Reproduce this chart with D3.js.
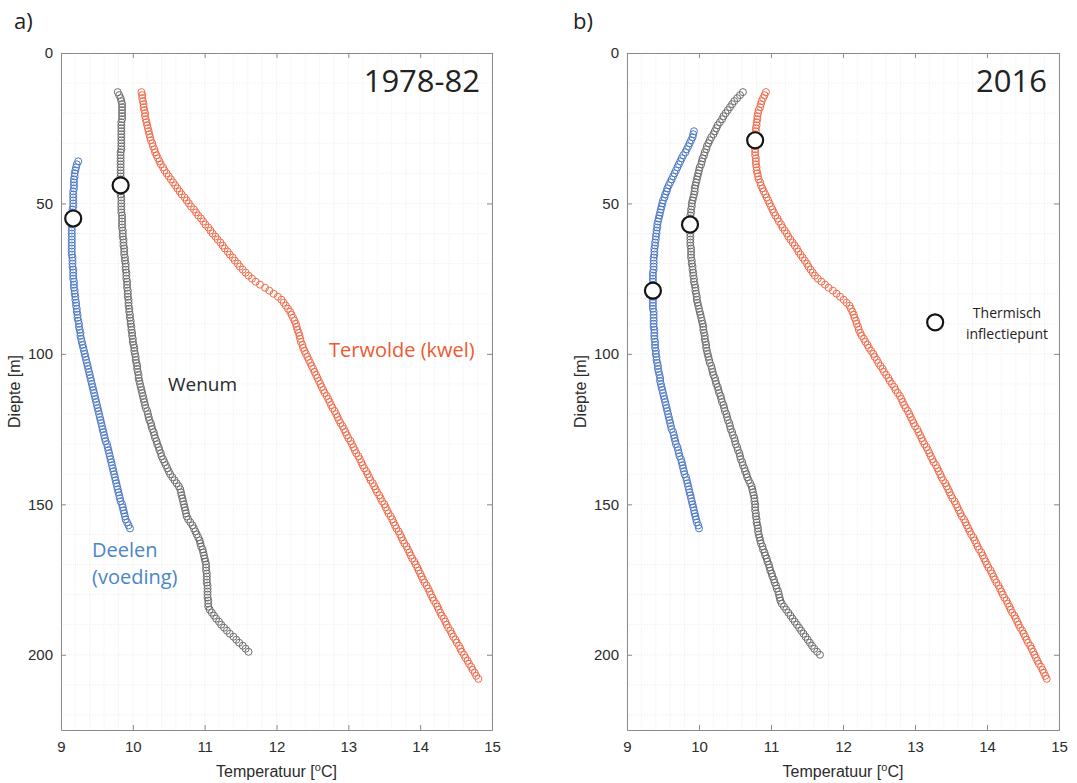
<!DOCTYPE html>
<html>
<head>
<meta charset="utf-8">
<script src="https://cdn.jsdelivr.net/npm/d3@7"></script>
<style>
  body { margin: 0; background: #fff; }
  svg { display: block; }
</style>
</head>
<body>
<div id="chart"></div>
<script>
"use strict";

// Temperature profiles (°C), one reading per metre, starting at the given depth (m)
const deelenAStart = 36;
const deelenA = [9.24,9.22,9.21,9.20,9.19,9.19,9.18,9.18,9.18,9.18,9.17,9.17,9.17,9.17,9.17,9.17,9.16,9.16,9.16,9.16,9.16,9.15,9.15,9.15,9.15,
  9.15,9.15,9.15,9.15,9.15,9.15,9.15,9.16,9.16,9.16,
  9.16,9.17,9.17,9.17,9.17,9.18,9.18,9.18,9.19,9.19,
  9.20,9.20,9.21,9.21,9.22,9.22,9.23,9.23,9.24,9.25,
  9.25,9.26,9.27,9.27,9.28,9.29,9.30,9.31,9.32,9.33,
  9.34,9.35,9.36,9.37,9.38,9.39,9.40,9.41,9.42,9.43,
  9.44,9.45,9.46,9.47,9.48,9.49,9.50,9.51,9.52,9.53,
  9.54,9.55,9.56,9.57,9.58,9.59,9.60,9.61,9.62,9.64,
  9.65,9.66,9.67,9.68,9.69,9.70,9.71,9.72,9.73,9.74,
  9.75,9.76,9.77,9.78,9.79,9.80,9.81,9.82,9.83,9.85,
  9.86,9.87,9.88,9.89,9.90,9.92,9.94,9.96];

const wenumAStart = 13;
const wenumA = [9.79,9.81,9.83,9.84,9.85,9.85,9.85,9.85,
  9.85,9.85,9.84,9.84,9.84,9.84,9.84,9.84,9.84,9.84,
  9.84,9.84,9.83,9.83,9.83,9.83,9.83,9.83,9.83,9.83,
  9.83,9.83,9.83,9.83,9.83,9.83,9.83,9.84,9.84,9.84,
  9.84,9.84,9.84,9.85,9.85,9.85,9.85,9.85,9.86,9.86,
  9.86,9.87,9.87,9.87,9.88,9.88,9.88,9.89,9.89,9.90,
  9.90,9.90,9.91,9.91,9.91,9.92,9.92,9.92,9.93,9.93,
  9.93,9.94,9.94,9.94,9.95,9.95,9.96,9.96,9.97,9.97,
  9.98,9.98,9.99,9.99,10.00,10.00,10.01,10.02,10.02,10.03,
  10.04,10.04,10.05,10.06,10.06,10.07,10.08,10.08,10.09,10.10,
  10.11,10.12,10.13,10.14,10.15,10.16,10.17,10.18,10.20,10.21,
  10.22,10.23,10.25,10.26,10.27,10.29,10.30,10.31,10.33,10.34,
  10.36,10.37,10.39,10.40,10.42,10.44,10.46,10.48,10.50,10.52,
  10.55,10.58,10.61,10.64,10.66,10.67,10.68,10.69,10.70,10.71,
  10.72,10.73,10.74,10.75,10.77,10.80,10.83,10.85,10.87,10.89,
  10.91,10.93,10.94,10.95,10.97,10.98,10.99,11.00,11.01,11.02,
  11.02,11.02,11.03,11.03,11.03,11.03,11.04,11.04,11.04,11.04,
  11.04,11.05,11.05,11.05,11.07,11.10,11.13,11.16,11.20,11.23,
  11.27,11.31,11.35,11.40,11.44,11.48,11.53,11.57,11.61];

const terwoldeAStart = 13;
const terwoldeA = [10.12,10.13,10.13,10.14,10.15,10.15,10.16,10.17,
  10.17,10.18,10.19,10.20,10.21,10.22,10.23,10.24,10.25,10.27,
  10.28,10.30,10.31,10.33,10.35,10.37,10.39,10.42,10.44,10.47,
  10.50,10.53,10.56,10.59,10.62,10.65,10.68,10.72,10.75,10.78,
  10.81,10.85,10.88,10.91,10.95,10.98,11.01,11.05,11.08,11.11,
  11.15,11.18,11.22,11.25,11.28,11.32,11.35,11.39,11.42,11.46,
  11.49,11.53,11.57,11.61,11.66,11.71,11.77,11.84,11.90,11.96,
  12.02,12.07,12.10,12.13,12.16,12.19,12.21,12.23,12.25,12.27,
  12.28,12.29,12.31,12.32,12.33,12.34,12.36,12.37,12.39,12.41,
  12.43,12.45,12.47,12.49,12.51,12.53,12.55,12.57,12.59,12.61,
  12.63,12.65,12.67,12.70,12.72,12.74,12.76,12.78,12.81,12.83,
  12.85,12.87,12.89,12.92,12.94,12.96,12.98,13.00,13.03,13.05,
  13.07,13.09,13.11,13.14,13.16,13.18,13.20,13.22,13.25,13.27,
  13.29,13.31,13.34,13.36,13.38,13.40,13.43,13.45,13.47,13.50,
  13.52,13.54,13.56,13.59,13.61,13.63,13.65,13.67,13.70,13.72,
  13.74,13.76,13.78,13.81,13.83,13.85,13.87,13.89,13.92,13.94,
  13.96,13.98,14.00,14.02,14.04,14.06,14.09,14.11,14.13,14.15,
  14.17,14.19,14.22,14.24,14.26,14.28,14.30,14.33,14.35,14.37,
  14.39,14.42,14.44,14.46,14.49,14.51,14.54,14.56,14.58,14.61,
  14.63,14.66,14.68,14.71,14.73,14.76,14.78,14.81];

const deelenBStart = 26;
const deelenB = [9.93,9.92,9.91,9.89,9.87,9.85,9.83,9.81,9.78,9.76,9.74,9.72,9.70,9.68,9.66,
  9.64,9.62,9.60,9.58,9.56,9.55,9.53,9.52,9.50,9.49,
  9.48,9.47,9.46,9.45,9.44,9.43,9.42,9.42,9.41,9.41,
  9.40,9.40,9.39,9.39,9.38,9.38,9.38,9.37,9.37,9.37,
  9.37,9.37,9.36,9.36,9.36,9.36,9.36,9.36,9.36,9.36,
  9.36,9.36,9.36,9.36,9.36,9.37,9.37,9.37,9.37,9.37,
  9.37,9.38,9.38,9.38,9.38,9.39,9.39,9.39,9.40,9.40,
  9.41,9.41,9.42,9.43,9.43,9.44,9.45,9.46,9.46,9.47,
  9.48,9.49,9.50,9.51,9.52,9.53,9.54,9.55,9.56,9.57,
  9.58,9.59,9.60,9.61,9.62,9.64,9.65,9.66,9.67,9.68,
  9.70,9.71,9.72,9.73,9.75,9.76,9.77,9.78,9.79,9.80,
  9.82,9.83,9.84,9.85,9.86,9.87,9.88,9.89,9.90,9.91,
  9.92,9.93,9.94,9.95,9.96,9.97,9.99,10.00];

const wenumBStart = 13;
const wenumB = [10.61,10.57,10.53,10.49,10.46,10.43,10.40,10.37,
  10.34,10.32,10.29,10.26,10.24,10.22,10.20,10.17,10.15,10.13,
  10.11,10.10,10.08,10.07,10.05,10.04,10.03,10.01,10.00,9.99,
  9.98,9.97,9.96,9.95,9.94,9.94,9.93,9.92,9.91,9.90,
  9.90,9.89,9.89,9.88,9.88,9.88,9.88,9.88,9.88,9.88,
  9.88,9.88,9.88,9.88,9.89,9.89,9.89,9.89,9.90,9.90,
  9.91,9.91,9.92,9.92,9.93,9.93,9.94,9.95,9.95,9.96,
  9.97,9.97,9.98,9.99,10.00,10.01,10.02,10.03,10.04,10.05,
  10.06,10.06,10.07,10.08,10.08,10.09,10.10,10.10,10.11,10.12,
  10.13,10.14,10.15,10.17,10.18,10.19,10.20,10.22,10.23,10.24,
  10.26,10.27,10.28,10.30,10.31,10.32,10.34,10.35,10.36,10.38,
  10.39,10.40,10.42,10.43,10.44,10.46,10.47,10.49,10.50,10.51,
  10.53,10.54,10.56,10.57,10.58,10.60,10.61,10.63,10.64,10.66,
  10.67,10.69,10.71,10.73,10.74,10.75,10.76,10.77,10.77,10.78,
  10.78,10.78,10.79,10.79,10.80,10.80,10.81,10.82,10.82,10.83,
  10.84,10.85,10.86,10.88,10.89,10.91,10.92,10.94,10.95,10.97,
  10.98,10.99,11.01,11.02,11.04,11.05,11.07,11.08,11.10,11.11,
  11.12,11.13,11.15,11.18,11.21,11.24,11.27,11.30,11.33,11.36,
  11.39,11.42,11.45,11.48,11.51,11.54,11.57,11.60,11.64,11.68];

const terwoldeBStart = 13;
const terwoldeB = [10.93,10.91,10.89,10.87,10.86,10.85,10.83,10.82,
  10.81,10.81,10.80,10.80,10.79,10.79,10.78,10.78,10.78,10.78,
  10.78,10.78,10.78,10.78,10.79,10.79,10.79,10.80,10.80,10.81,
  10.82,10.83,10.85,10.86,10.88,10.90,10.92,10.94,10.96,10.98,
  11.00,11.02,11.04,11.06,11.09,11.11,11.14,11.16,11.19,11.22,
  11.24,11.27,11.30,11.33,11.36,11.38,11.41,11.44,11.47,11.50,
  11.52,11.55,11.58,11.61,11.65,11.70,11.75,11.80,11.86,11.91,
  11.96,12.01,12.05,12.09,12.11,12.13,12.15,12.16,12.18,12.19,
  12.21,12.22,12.24,12.26,12.29,12.31,12.34,12.36,12.39,12.42,
  12.44,12.47,12.49,12.52,12.55,12.57,12.60,12.63,12.65,12.68,
  12.71,12.73,12.76,12.79,12.81,12.83,12.85,12.87,12.90,12.92,
  12.94,12.96,12.98,13.00,13.03,13.05,13.07,13.09,13.11,13.13,
  13.16,13.18,13.20,13.22,13.24,13.26,13.29,13.31,13.33,13.35,
  13.37,13.39,13.42,13.44,13.46,13.48,13.50,13.52,13.55,13.57,
  13.59,13.61,13.63,13.65,13.68,13.70,13.72,13.74,13.76,13.78,
  13.81,13.83,13.85,13.87,13.89,13.92,13.94,13.96,13.98,14.00,
  14.02,14.05,14.07,14.09,14.11,14.13,14.16,14.18,14.20,14.22,
  14.24,14.27,14.29,14.31,14.33,14.35,14.38,14.40,14.42,14.44,
  14.46,14.49,14.51,14.53,14.55,14.57,14.60,14.62,14.64,14.66,
  14.68,14.70,14.72,14.75,14.77,14.79,14.81,14.83];

// Thermal inflection points [temperature, depth]
const inflectionA = [[9.17, 55], [9.83, 44]];
const inflectionB = [[9.36, 79], [9.875, 57], [10.78, 29]];
const legendPoint = [13.28, 89.5];

// Axis ticks
const xTicks = [9, 10, 11, 12, 13, 14, 15];
const yTicks = [0, 50, 100, 150, 200];

const width = 1077;
const height = 783;
const plotTop = 53, plotBottom = 730;

const colors = { deelen: "#4d78c6", wenum: "#6e6e6e", terwolde: "#ef6b4c" };

const svg = d3.select("#chart").append("svg")
  .attr("width", width)
  .attr("height", height);

function toPoints(start, temps) {
  return temps.map((t, i) => [t, start + i]);
}

function drawPanel(opt) {
  const x = d3.scaleLinear().domain([9, 15]).range([opt.x0, opt.x1]);
  const y = d3.scaleLinear().domain([0, 225]).range([plotTop, plotBottom]);
  const g = svg.append("g");

  // minor grid
  const minorX = d3.range(9, 15.001, 0.2);
  const minorY = d3.range(0, 225.1, 10);
  g.append("g").selectAll("line").data(minorX).join("line")
    .attr("x1", d => x(d)).attr("x2", d => x(d))
    .attr("y1", plotTop).attr("y2", plotBottom)
    .attr("stroke", "#ececec").attr("stroke-width", 0.8)
    .attr("stroke-dasharray", "1,1");
  g.append("g").selectAll("line").data(minorY).join("line")
    .attr("x1", opt.x0).attr("x2", opt.x1)
    .attr("y1", d => y(d)).attr("y2", d => y(d))
    .attr("stroke", "#ececec").attr("stroke-width", 0.8)
    .attr("stroke-dasharray", "1,1");

  // axes with inward ticks on all four sides
  const axisStyle = sel => {
    sel.select(".domain").attr("stroke", "#8a8a8a");
    sel.selectAll(".tick line").attr("stroke", "#8a8a8a");
    sel.selectAll(".tick text")
      .attr("fill", "#2b2b2b")
      .style("font-family", "'Liberation Sans', Arial, sans-serif")
      .style("font-size", "15px");
  };
  g.append("g").attr("transform", `translate(0,${plotBottom})`)
    .call(d3.axisBottom(x).tickValues(xTicks).tickFormat(d3.format("d"))
      .tickSize(-5).tickSizeOuter(0).tickPadding(11))
    .call(axisStyle);
  g.append("g").attr("transform", `translate(0,${plotTop})`)
    .call(d3.axisTop(x).tickValues(xTicks).tickSize(-5).tickSizeOuter(0).tickFormat(""))
    .call(axisStyle);
  g.append("g").attr("transform", `translate(${opt.x0},0)`)
    .call(d3.axisLeft(y).tickValues(yTicks).tickFormat(d3.format("d"))
      .tickSize(-5).tickSizeOuter(0).tickPadding(8))
    .call(axisStyle);
  g.append("g").attr("transform", `translate(${opt.x1},0)`)
    .call(d3.axisRight(y).tickValues(yTicks).tickSize(-5).tickSizeOuter(0).tickFormat(""))
    .call(axisStyle);

  // axis titles
  g.append("text")
    .attr("transform", `translate(${opt.x0 - 41},${(plotTop + plotBottom) / 2}) rotate(-90)`)
    .attr("text-anchor", "middle")
    .attr("fill", "#2b2b2b")
    .style("font-family", "'Liberation Sans', Arial, sans-serif")
    .style("font-size", "16px")
    .text("Diepte [m]");
  const xl = g.append("text")
    .attr("x", (opt.x0 + opt.x1) / 2).attr("y", 777)
    .attr("text-anchor", "middle")
    .attr("fill", "#2b2b2b")
    .style("font-family", "'Liberation Sans', Arial, sans-serif")
    .style("font-size", "16px");
  xl.append("tspan").text("Temperatuur [");
  xl.append("tspan").attr("dy", -6).style("font-size", "11px").text("o");
  xl.append("tspan").attr("dy", 6).text("C]");

  // profiles
  opt.series.forEach(s => {
    g.append("g").selectAll("circle").data(toPoints(s.start, s.temps)).join("circle")
      .attr("cx", d => x(d[0]))
      .attr("cy", d => y(d[1]))
      .attr("r", 3.5)
      .attr("fill", "none")
      .attr("stroke", s.color)
      .attr("stroke-width", 1);
  });

  // inflection points
  g.append("g").selectAll("circle").data(opt.inflection).join("circle")
    .attr("cx", d => x(d[0]))
    .attr("cy", d => y(d[1]))
    .attr("r", 8)
    .attr("fill", "#fff")
    .attr("stroke", "#151515")
    .attr("stroke-width", 2.2);

  // panel letter and period title
  svg.append("text")
    .attr("x", opt.letterX).attr("y", 29)
    .attr("fill", "#222")
    .style("font-family", "'Open Sans', sans-serif")
    .style("font-size", "22px")
    .text(opt.letter);
  g.append("text")
    .attr("x", opt.x1 - 12).attr("y", 92)
    .attr("text-anchor", "end")
    .attr("fill", "#222")
    .style("font-family", "'Open Sans', sans-serif")
    .style("font-size", "31px")
    .text(opt.title);

  return { x, y, g };
}

const panelA = drawPanel({
  x0: 61, x1: 492, letter: "a)", letterX: 14, title: "1978-82",
  series: [
    { start: deelenAStart, temps: deelenA, color: colors.deelen },
    { start: wenumAStart, temps: wenumA, color: colors.wenum },
    { start: terwoldeAStart, temps: terwoldeA, color: colors.terwolde }
  ],
  inflection: inflectionA
});

const panelB = drawPanel({
  x0: 627, x1: 1059, letter: "b)", letterX: 573, title: "2016",
  series: [
    { start: deelenBStart, temps: deelenB, color: colors.deelen },
    { start: wenumBStart, temps: wenumB, color: colors.wenum },
    { start: terwoldeBStart, temps: terwoldeB, color: colors.terwolde }
  ],
  inflection: inflectionB
});

// curve labels in panel a
const labelFont = "'Open Sans', sans-serif";
panelA.g.append("text").attr("x", 168).attr("y", 391)
  .attr("fill", "#2a2a2a").style("font-family", labelFont).style("font-size", "19px")
  .text("Wenum");
panelA.g.append("text").attr("x", 329).attr("y", 357)
  .attr("fill", "#ee5a32").style("font-family", labelFont).style("font-size", "20px")
  .text("Terwolde (kwel)");
panelA.g.append("text").attr("x", 92).attr("y", 557)
  .attr("fill", "#4a86c8").style("font-family", labelFont).style("font-size", "20px")
  .text("Deelen");
panelA.g.append("text").attr("x", 92).attr("y", 584)
  .attr("fill", "#4a86c8").style("font-family", labelFont).style("font-size", "20px")
  .text("(voeding)");

// legend in panel b
panelB.g.append("circle")
  .attr("cx", panelB.x(legendPoint[0])).attr("cy", panelB.y(legendPoint[1]))
  .attr("r", 8).attr("fill", "#fff").attr("stroke", "#151515").attr("stroke-width", 2.2);
panelB.g.append("text").attr("x", 1007).attr("y", 318)
  .attr("text-anchor", "middle").attr("fill", "#222")
  .style("font-family", labelFont).style("font-size", "14px")
  .text("Thermisch");
panelB.g.append("text").attr("x", 1007).attr("y", 339)
  .attr("text-anchor", "middle").attr("fill", "#222")
  .style("font-family", labelFont).style("font-size", "14px")
  .text("inflectiepunt");
</script>
</body>
</html>
